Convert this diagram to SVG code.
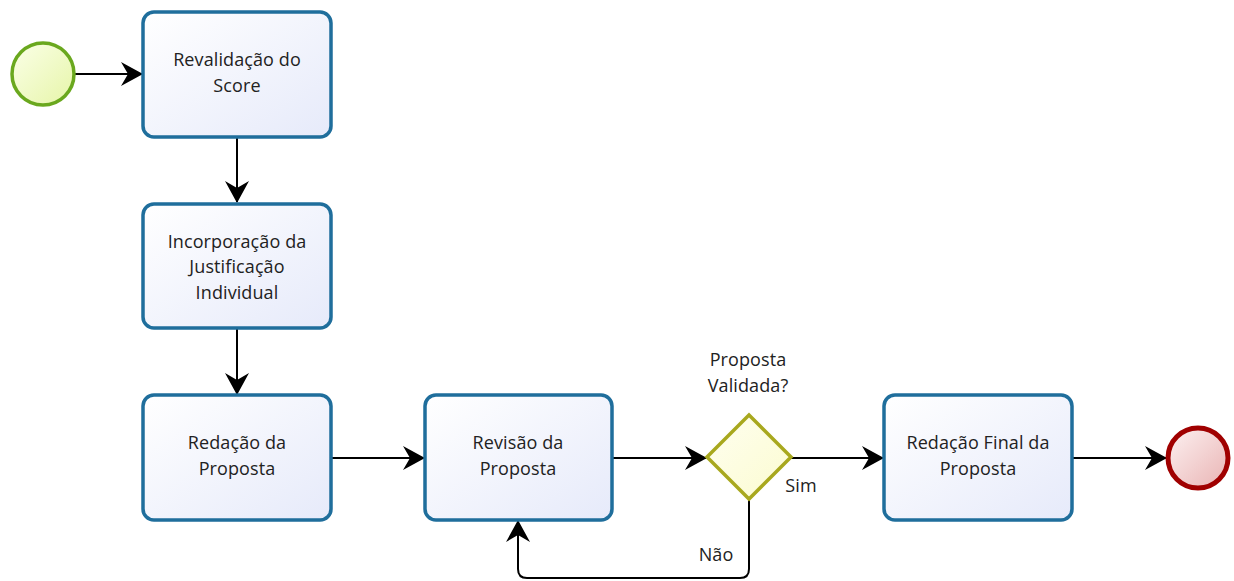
<svg xmlns="http://www.w3.org/2000/svg" width="1234" height="581" viewBox="0 0 1234 581">
<defs>
<linearGradient id="taskFill" x1="0" y1="0" x2="1" y2="1">
<stop offset="0" stop-color="#ffffff"/>
<stop offset="1" stop-color="#e6eafa"/>
</linearGradient>
<linearGradient id="startFill" x1="0" y1="0" x2="1" y2="1">
<stop offset="0" stop-color="#fbffe8"/>
<stop offset="1" stop-color="#e6f5a8"/>
</linearGradient>
<linearGradient id="endFill" x1="0" y1="0" x2="1" y2="1">
<stop offset="0" stop-color="#fdf2f2"/>
<stop offset="1" stop-color="#e9b3b3"/>
</linearGradient>
<linearGradient id="gwFill" x1="0" y1="0" x2="1" y2="1">
<stop offset="0" stop-color="#fffff0"/>
<stop offset="1" stop-color="#fbfbd0"/>
</linearGradient>
<marker id="arr" markerWidth="22" markerHeight="24" refX="21" refY="12" orient="auto" markerUnits="userSpaceOnUse">
<path d="M0,0 L22,12 L0,24 L7,12 Z" fill="#000"/>
</marker>
</defs>
<style>
.task{fill:url(#taskFill);stroke:#1f6e9c;stroke-width:3.5}
.lbl{font-family:"Open Sans","DejaVu Sans",sans-serif;font-size:18px;letter-spacing:0.1px;fill:#222;text-anchor:middle}
.con{fill:none;stroke:#000;stroke-width:2}
</style>
<rect width="1234" height="581" fill="#fff"/>
<g id="connectors">
<line class="con" x1="75" y1="74" x2="142" y2="74" marker-end="url(#arr)"/>
<line class="con" x1="237" y1="137" x2="237" y2="202" marker-end="url(#arr)"/>
<line class="con" x1="237" y1="329" x2="237" y2="394" marker-end="url(#arr)"/>
<line class="con" x1="331" y1="458" x2="424" y2="458" marker-end="url(#arr)"/>
<line class="con" x1="612" y1="458" x2="706" y2="458" marker-end="url(#arr)"/>
<line class="con" x1="791" y1="458" x2="883" y2="458" marker-end="url(#arr)"/>
<line class="con" x1="1072" y1="458" x2="1166" y2="458" marker-end="url(#arr)"/>
<path class="con" d="M749,499 L749,569 Q749,578 740,578 L527,578 Q518,578 518,569 L518,521" marker-end="url(#arr)"/>
<text class="lbl" x="801" y="492">Sim</text>
<text class="lbl" x="716" y="561">Não</text>
</g>
<g id="start">
<circle cx="43" cy="74" r="31" fill="url(#startFill)" stroke="#6aa81e" stroke-width="3.5"/>
</g>
<g id="task1">
<rect class="task" x="143" y="12" width="188" height="125" rx="11"/>
<text class="lbl" x="237" y="66">Revalidação do</text>
<text class="lbl" x="237" y="92">Score</text>
</g>
<g id="task2">
<rect class="task" x="143" y="204" width="188" height="124" rx="11"/>
<text class="lbl" x="237" y="248">Incorporação da</text>
<text class="lbl" x="237" y="273">Justificação</text>
<text class="lbl" x="237" y="299">Individual</text>
</g>
<g id="task3">
<rect class="task" x="143" y="395" width="188" height="125" rx="11"/>
<text class="lbl" x="237" y="449">Redação da</text>
<text class="lbl" x="237" y="475">Proposta</text>
</g>
<g id="task4">
<rect class="task" x="425" y="395" width="187" height="125" rx="11"/>
<text class="lbl" x="518" y="449">Revisão da</text>
<text class="lbl" x="518" y="475">Proposta</text>
</g>
<g id="gateway">
<polygon points="749,415 791,457 749,499 707,457" fill="url(#gwFill)" stroke="#a8a81e" stroke-width="3.5"/>
<text class="lbl" x="748" y="366">Proposta</text>
<text class="lbl" x="748" y="392">Validada?</text>
</g>
<g id="task5">
<rect class="task" x="884" y="395" width="188" height="125" rx="11"/>
<text class="lbl" x="978" y="449">Redação Final da</text>
<text class="lbl" x="978" y="475">Proposta</text>
</g>
<g id="end">
<circle cx="1198" cy="458" r="30" fill="url(#endFill)" stroke="#a00000" stroke-width="5"/>
</g>
</svg>
